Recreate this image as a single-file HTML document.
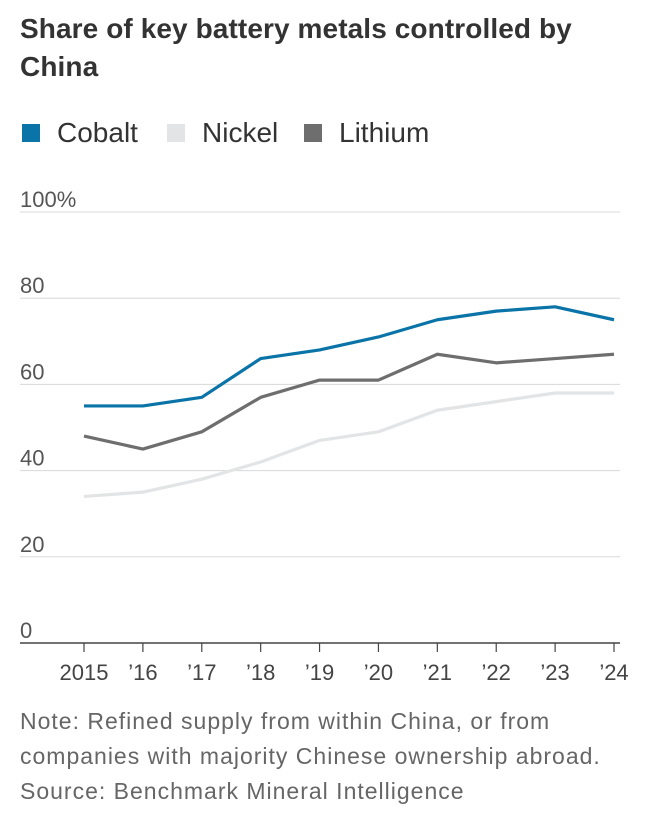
<!DOCTYPE html>
<html><head><meta charset="utf-8">
<style>
body{margin:0;background:#fff;width:656px;height:840px;overflow:hidden;font-family:"Liberation Sans",sans-serif;}
.t{position:absolute;left:20px;top:10px;font-size:28px;font-weight:bold;color:#333;line-height:38px;letter-spacing:0.1px}
.li{position:absolute;top:116px;font-size:28px;color:#333;display:flex;align-items:center;height:34px}
.sw{width:18px;height:18px;display:inline-block;margin-right:17px}
.note{position:absolute;left:20px;top:704px;font-size:23px;color:#666;line-height:35px;letter-spacing:1px}
svg{position:absolute;left:0;top:0}
</style></head><body>
<div class="t">Share of key battery metals controlled by<br>China</div>
<div class="li" style="left:22px"><i class="sw" style="background:#0a74a8"></i>Cobalt</div>
<div class="li" style="left:167px"><i class="sw" style="background:#e2e4e6"></i>Nickel</div>
<div class="li" style="left:304px"><i class="sw" style="background:#6e6e6e"></i>Lithium</div>
<svg id="c" width="656" height="840"></svg>
<div class="note">Note: Refined supply from within China, or from<br>companies with majority Chinese ownership abroad.<br>Source: Benchmark Mineral Intelligence</div>
<script>
const years=["2015","’16","’17","’18","’19","’20","’21","’22","’23","’24"];
const cobalt=[55,55,57,66,68,71,75,77,78,75];
const nickel=[34,35,38,42,47,49,54,56,58,58];
const lithium=[48,45,49,57,61,61,67,65,66,67];
const yTicks=[0,20,40,60,80,100];
const NS="http://www.w3.org/2000/svg";
const svg=document.getElementById("c");
const x=i=>84+i*(614-84)/(years.length-1);
const y=v=>643-v*4.31;
function mk(t,a,p){const e=document.createElementNS(NS,t);for(const k in a)e.setAttribute(k,a[k]);(p||svg).appendChild(e);return e;}
yTicks.forEach(v=>{
 if(v>0){const g=mk("line",{x1:20,x2:620,y1:y(v),y2:y(v),stroke:"#d8d8d8","stroke-width":1});
 
 }
 const t=mk("text",{x:20,y:y(v)-5,"font-size":22,fill:"#555","font-family":"Liberation Sans, sans-serif"});
 t.textContent=v===100?"100%":v;
 
 
});
const ax=mk("line",{x1:20,x2:620,y1:643,y2:643,stroke:"#444","stroke-width":1.5});


years.forEach((yr,i)=>{
 const tk=mk("line",{x1:x(i),x2:x(i),y1:643,y2:652,stroke:"#444","stroke-width":1.2});
 
 
 const t=mk("text",{x:x(i),y:680,"font-size":22,fill:"#444","text-anchor":"middle","font-family":"Liberation Sans, sans-serif"});
 t.textContent=yr;
 
 
});
function line(arr,col,name){
 const p=mk("polyline",{points:arr.map((v,i)=>x(i)+","+y(v)).join(" "),fill:"none",stroke:col,"stroke-width":3.2,"stroke-linejoin":"round"});
 
 
}
line(nickel,"#e2e4e6","nickel-line");
line(lithium,"#6e6e6e","lithium-line");
line(cobalt,"#0a74a8","cobalt-line");
</script>
</body></html>
